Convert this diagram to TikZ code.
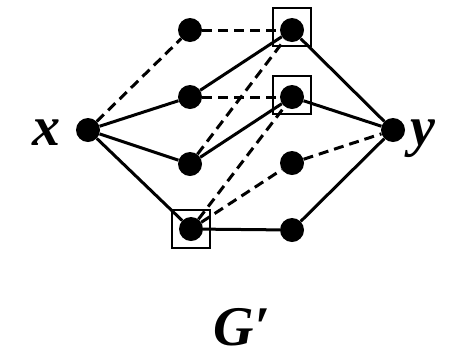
\documentclass[tikz,border=0pt]{standalone}
\usepackage{fontspec}
\setmainfont{Liberation Serif}
\begin{document}
\begin{tikzpicture}[x=1pt,y=-1pt,
  vtx/.style={circle,fill=black,inner sep=0pt,minimum size=24pt},
  boxed/.style={draw,line width=2.2pt,minimum size=38pt,inner sep=0pt},
  sol/.style={line width=3pt},
  dsh/.style={line width=3pt,dash pattern=on 10pt off 6pt},
  lbl/.style={font=\fontsize{56}{60}\selectfont\bfseries\itshape,inner sep=0pt}]
\useasboundingbox (0,0) rectangle (449,354);
% vertices
\node[vtx] (x) at (88,130) {};
\node[vtx] (y) at (393,130) {};
\node[vtx] (a1) at (190,30) {};
\node[vtx] (a2) at (190,97) {};
\node[vtx] (a3) at (190,164) {};
\node[vtx] (a4) at (191,229) {};
\node[vtx] (b1) at (292,30) {};
\node[vtx] (b2) at (292,97) {};
\node[vtx] (b3) at (292,163) {};
\node[vtx] (b4) at (292,230) {};
% marked vertices
\node[boxed] (s1) at (292,27) {};
\node[boxed] (s2) at (292,95) {};
\node[boxed] (s3) at (191,229) {};
% edges
\draw[dsh] (x) -- (a1);
\draw[sol] (x) -- (a2);
\draw[sol] (x) -- (a3);
\draw[sol] (x) -- (a4);
\draw[dsh] (a1) -- (b1);
\draw[sol] (a2) -- (b1);
\draw[dsh] (a2) -- (b2);
\draw[dsh] (a3) -- (b1);
\draw[sol] (a3) -- (b2);
\draw[dsh] (a4) -- (b2);
\draw[dsh] (a4) -- (b3);
\draw[sol] (a4) -- (b4);
\draw[sol] (b1) -- (y);
\draw[sol] (b2) -- (y);
\draw[dsh] (b3) -- (y);
\draw[sol] (b4) -- (y);
% labels
\node[lbl,anchor=base] (xl) at (46,145) {x};
\node[lbl,anchor=base] (yl) at (423,145) {y};
\node[lbl,anchor=base] (gl) at (242,345) {G′};
\end{tikzpicture}
\end{document}
